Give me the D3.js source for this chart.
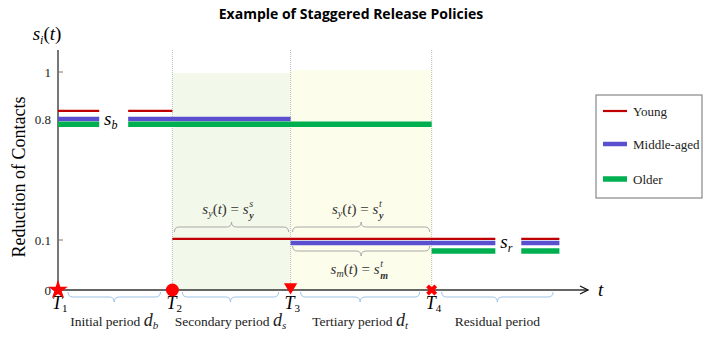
<!DOCTYPE html>
<html><head><meta charset="utf-8">
<script src="https://cdn.jsdelivr.net/npm/d3@7/dist/d3.min.js"></script>
<style>
body{margin:0;background:#fff;}
svg{display:block;}
.serif{font-family:"Liberation Serif","DejaVu Serif",serif;}
</style></head>
<body><div id="chart"></div>
<script>
// ---- data ----
const title = "Example of Staggered Release Policies";
const yTickValues = [0, 0.1, 0.8, 1];
const yTickLabels = ["0", "0.1", "0.8", "1"];
const groups = ["Young", "Middle-aged", "Older"];
const groupColors = ["#c00000", "#5a4fcf", "#00b050"];
// release times (days) T1..T4, axis end
const releaseTimes = [0, 30, 61, 98];
const axisEnd = 139;
// segments: [tStart, tEnd, value]
const youngSegments = [[0, 10.8, 0.835], [18.4, 30, 0.835], [30, 114.7, 0.106], [121.5, 131.5, 0.106]];
const middleSegments = [[0, 10.8, 0.8], [18.4, 61, 0.8], [61, 114.7, 0.094], [121.5, 131.5, 0.094]];
const olderSegments = [[0, 10.8, 0.77], [18.4, 98, 0.77], [98, 114.7, 0.078], [121.5, 131.5, 0.078]];
const periodLabels = ["Initial period", "Secondary period", "Tertiary period", "Residual period"];
const periodSubs = ["b", "s", "t", ""];
const periodEnds = [30, 61, 98, 133];

// ---- layout ----
const W = 709, H = 341;
const svg = d3.select("#chart").append("svg").attr("width", W).attr("height", H);
const x = d3.scaleLinear().domain([0, axisEnd]).range([58, 588]);
const y = d3.scaleLinear().domain([0, 0.1, 0.8, 1]).range([290, 240, 119, 72]);

// shaded periods
svg.append("rect").attr("x", x(releaseTimes[1])).attr("y", y(1)+1)
  .attr("width", x(releaseTimes[2]) - x(releaseTimes[1])).attr("height", y(0) - y(1) - 1)
  .attr("fill", "#f3f9ea");
svg.append("rect").attr("x", x(releaseTimes[2])).attr("y", y(1)-2)
  .attr("width", x(releaseTimes[3]) - x(releaseTimes[2])).attr("height", y(0) - y(1) + 2)
  .attr("fill", "#fdfdec");

// dotted verticals
releaseTimes.slice(1).forEach(t => {
  svg.append("line").attr("x1", x(t)).attr("x2", x(t)).attr("y1", 50).attr("y2", y(0))
    .attr("stroke", "#bbbbbb").attr("stroke-width", 1).attr("stroke-dasharray", "1,1");
});

// title
svg.append("text").attr("x", 351).attr("y", 19).attr("text-anchor", "middle")
  .style("font-family", "'Open Sans',sans-serif").style("font-weight", "bold").style("font-size", "14px")
  .text(title);

// y axis
svg.append("line").attr("x1", 58).attr("x2", 58).attr("y1", 50).attr("y2", y(0))
  .attr("stroke", "#555").attr("stroke-width", 1.6);
yTickValues.forEach((v, i) => {
  if (v > 0) svg.append("line").attr("x1", 58).attr("x2", 63).attr("y1", y(v)).attr("y2", y(v))
    .attr("stroke", "#777").attr("stroke-width", 1);
  svg.append("text").attr("class", "serif").attr("x", 51).attr("y", y(v) + 4.5)
    .attr("text-anchor", "end").style("font-size", "13px").attr("fill", "#222").text(yTickLabels[i]);
});

// x axis with arrow
svg.append("line").attr("x1", 58).attr("x2", x(axisEnd)).attr("y1", y(0)).attr("y2", y(0))
  .attr("stroke", "#333").attr("stroke-width", 1.6);
svg.append("path").attr("d", `M${x(axisEnd)-8},${y(0)-4} L${x(axisEnd)},${y(0)} L${x(axisEnd)-8},${y(0)+4}`)
  .attr("fill", "none").attr("stroke", "#111").attr("stroke-width", 1.3);
svg.append("text").attr("class", "serif").attr("x", x(axisEnd) + 10).attr("y", y(0) + 6)
  .style("font-size", "19px").style("font-style", "italic").text("t");

// axis titles
svg.append("text").attr("class", "serif").attr("transform", "translate(25,177) rotate(-90)")
  .attr("text-anchor", "middle").style("font-size", "18px").text("Reduction of Contacts");
const sit = svg.append("text").attr("class", "serif").attr("x", 47).attr("y", 40).attr("text-anchor", "middle")
  .style("font-size", "19px").style("font-style", "italic");
sit.append("tspan").text("s");
sit.append("tspan").attr("dy", 4).style("font-size", "12px").text("i");
sit.append("tspan").attr("dy", -4).style("font-style", "normal").text("(");
sit.append("tspan").text("t");
sit.append("tspan").style("font-style", "normal").text(")");

// segments
const widths = [2.2, 4.5, 5.5];
[youngSegments, middleSegments, olderSegments].forEach((segs, gi) => {
  svg.selectAll(null).data(segs).enter().append("line")
    .attr("x1", d => x(d[0])).attr("x2", d => x(d[1]))
    .attr("y1", d => y(d[2])).attr("y2", d => y(d[2]))
    .attr("stroke", groupColors[gi]).attr("stroke-width", widths[gi]);
});

// s_b and s_r labels
function sLabel(xp, yp, sub) {
  const t = svg.append("text").attr("class", "serif").attr("x", xp).attr("y", yp)
    .style("font-size", "19px").style("font-style", "italic");
  t.append("tspan").text("s");
  t.append("tspan").attr("dy", 4).style("font-size", "12px").text(sub);
}
sLabel(104, y(0.8) + 6, "b");
sLabel(x(116), y(0.094) + 5, "r");

// curly brace path
function brace(x1, x2, yb, depth, dir) {
  const m = (x1 + x2) / 2, d = depth * dir, q = 5;
  return `M${x1},${yb - d} Q${x1},${yb} ${x1 + q},${yb} L${m - q},${yb} Q${m},${yb} ${m},${yb + d}` +
         ` Q${m},${yb} ${m + q},${yb} L${x2 - q},${yb} Q${x2},${yb} ${x2},${yb - d}`;
}
const gray = "#a8a8a8";
svg.append("path").attr("d", brace(x(30) + 2, x(61) - 2, 227, 5, -1)).attr("fill", "none").attr("stroke", gray);
svg.append("path").attr("d", brace(x(61) + 2, x(98) - 2, 227, 5, -1)).attr("fill", "none").attr("stroke", gray);
svg.append("path").attr("d", brace(x(61) + 2, x(98) - 2, 251, 5, 1)).attr("fill", "none").attr("stroke", gray);

function eqLabel(cx, cy, subL, supR, subR) {
  const g = svg.append("g");
  const t = g.append("text").attr("class", "serif").attr("x", cx - 6).attr("y", cy).attr("text-anchor", "middle")
    .style("font-size", "15px").attr("fill", "#333");
  t.append("tspan").style("font-style", "italic").text("s");
  t.append("tspan").attr("dy", 3).style("font-size", "10px").style("font-style", "italic").text(subL);
  t.append("tspan").attr("dy", -3).text("(");
  t.append("tspan").style("font-style", "italic").text("t");
  t.append("tspan").text(") = ");
  t.append("tspan").style("font-style", "italic").text("s");
  const bb = t.node().getBBox();
  const ex = bb.x + bb.width + 0.5;
  g.append("text").attr("class", "serif").attr("x", ex).attr("y", cy - 7)
    .style("font-size", "10px").style("font-style", "italic").attr("fill", "#333").text(supR);
  g.append("text").attr("class", "serif").attr("x", ex).attr("y", cy + 5)
    .style("font-size", "10px").style("font-style", "italic").style("font-weight", "bold").attr("fill", "#333").text(subR);
}
eqLabel(x(45.5), 214, "y", "s", "y");
eqLabel(x(79.5), 214, "y", "t", "y");
eqLabel(x(79.5), 274, "m", "t", "m");

// lower braces (period)
const blue = "#9dc3e6";
const pStarts = [0, 30, 61, 98];
pStarts.forEach((s, i) => {
  svg.append("path").attr("d", brace(x(s) + 10, x(periodEnds[i]) - 12, 297, 5, 1))
    .attr("fill", "none").attr("stroke", blue).attr("stroke-width", 1);
  const cx = (x(s) + x(periodEnds[i])) / 2 - 1;
  const t = svg.append("text").attr("class", "serif").attr("x", cx).attr("y", 326).attr("text-anchor", "middle")
    .style("font-size", "13.5px").attr("fill", "#222");
  t.append("tspan").text(periodLabels[i]);
  if (periodSubs[i]) {
    t.append("tspan").text(" ");
    t.append("tspan").style("font-style", "italic").style("font-size", "18px").text("d");
    t.append("tspan").attr("dy", 3).style("font-size", "11px").style("font-style", "italic").text(periodSubs[i]);
  }
});

// T labels
releaseTimes.forEach((t, i) => {
  const tx = svg.append("text").attr("class", "serif").attr("x", x(t) - 6).attr("y", 309)
    .style("font-size", "18px").style("font-style", "italic");
  tx.append("tspan").text("T");
  tx.append("tspan").attr("dy", 3).style("font-size", "11px").style("font-style", "normal").text(String(i + 1));
});

// markers
const red = "#ff0000";
svg.append("path").attr("d", d3.symbol(d3.symbolStar, 120)()).attr("transform", `translate(${x(0)},${y(0)})`).attr("fill", red);
svg.append("circle").attr("cx", x(30)).attr("cy", y(0)).attr("r", 6.5).attr("fill", red);
svg.append("path").attr("d", d3.symbol(d3.symbolTriangle, 75)()).attr("transform", `translate(${x(61)},${y(0) - 3}) rotate(180)`).attr("fill", red);
svg.append("path").attr("d", d3.symbol(d3.symbolCross, 75)()).attr("transform", `translate(${x(98)},${y(0)}) rotate(45)`).attr("fill", red);

// legend
svg.append("rect").attr("x", 596).attr("y", 95).attr("width", 106).attr("height", 103)
  .attr("fill", "#fff").attr("stroke", "#888").attr("stroke-width", 1.2);
const legY = [111, 144, 179];
groups.forEach((g, i) => {
  svg.append("line").attr("x1", 603).attr("x2", 627).attr("y1", legY[i]).attr("y2", legY[i])
    .attr("stroke", groupColors[i]).attr("stroke-width", widths[i]);
  svg.append("text").attr("class", "serif").attr("x", 633).attr("y", legY[i] + 4.5)
    .style("font-size", "13px").attr("fill", "#222").text(g);
});
</script></body></html>
